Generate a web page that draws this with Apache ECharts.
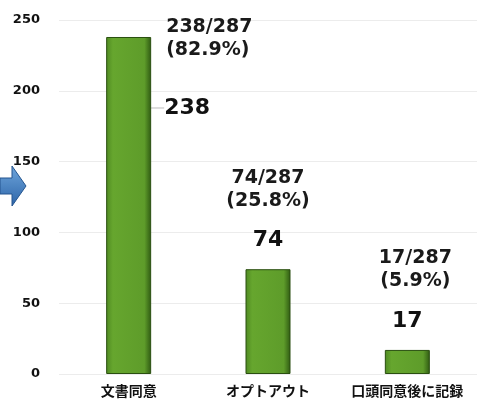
<!DOCTYPE html>
<html>
<head>
<meta charset="utf-8">
<script src="https://cdn.jsdelivr.net/npm/echarts@6/dist/echarts.min.js"></script>
<style>
  html, body { margin: 0; padding: 0; background: #fff; }
  #chart { width: 477px; height: 411px; }
</style>
</head>
<body>
<div id="chart"></div>
<script>
// データ
const categories = ["文書同意", "オプトアウト", "口頭同意後に記録"];
const counts = [238, 74, 17];
const total = 287;
const ratios = ["82.9%", "25.8%", "5.9%"];
const yTicks = [0, 50, 100, 150, 200, 250];

const chart = echarts.init(document.getElementById("chart"));

const barStyle = {
  color: new echarts.graphic.LinearGradient(0, 0, 1, 0, [
    { offset: 0, color: "#4f8a22" },
    { offset: 0.15, color: "#66a62e" },
    { offset: 0.85, color: "#5e9c2a" },
    { offset: 1, color: "#2f5a12" }
  ]),
  borderColor: "#2a4f10",
  borderWidth: 1
};

chart.setOption({
  animation: false,
  grid: { left: 59, width: 424, top: 20, bottom: 37 },
  xAxis: {
    type: "category",
    data: categories,
    axisLine: { show: false },
    axisTick: { show: false },
    axisLabel: {
      interval: 0,
      margin: 10,
      fontFamily: "Noto Sans CJK JP",
      fontWeight: "bold",
      fontSize: 14,
      color: "#111"
    }
  },
  yAxis: {
    type: "value",
    min: 0,
    max: yTicks[yTicks.length - 1],
    interval: 50,
    axisLine: { show: false },
    axisTick: { show: false },
    splitLine: { lineStyle: { color: "#ececec", width: 1 } },
    axisLabel: {
      margin: 19,
      fontFamily: "DejaVu Sans",
      fontWeight: "bold",
      fontSize: 13,
      color: "#111"
    }
  },
  series: [
    {
      type: "bar",
      barWidth: 45,
      data: counts.map((v, i) => i === 0 ? {
        value: v,
        label: { position: [58, 60] },
        labelLine: { show: true }
      } : v),
      itemStyle: barStyle,
      label: {
        show: true,
        position: "top",
        distance: 18,
        fontFamily: "DejaVu Sans",
        fontWeight: "bold",
        fontSize: 22,
        color: "#111"
      },
      labelLine: { show: false, lineStyle: { color: "#bbb", width: 1 } },
      z: 2
    },
    {
      type: "bar",
      barWidth: 45,
      barGap: "-100%",
      silent: true,
      itemStyle: { color: "transparent" },
      data: counts.map((v, i) => {
        if (i === 0) return { value: v, label: { position: [60, -21], align: "left" } };
        if (i === 2) return { value: v, label: { offset: [8, 0] } };
        return v;
      }),
      label: {
        show: true,
        position: "top",
        distance: 57,
        fontFamily: "DejaVu Sans",
        fontWeight: "bold",
        fontSize: 19,
        lineHeight: 23,
        color: "#1a1a1a",
        formatter: p => counts[p.dataIndex] + "/" + total + "\n(" + ratios[p.dataIndex] + ")"
      },
      z: 3
    }
  ],
  graphic: [
    {
      type: "polygon",
      shape: { points: [[0, 178], [12, 178], [12, 166], [26, 186], [12, 206], [12, 194], [0, 194]] },
      style: {
        fill: new echarts.graphic.LinearGradient(0, 0, 0, 1, [
          { offset: 0, color: "#6fa6dc" },
          { offset: 1, color: "#2c64a8" }
        ]),
        stroke: "#24558f",
        lineWidth: 1
      }
    }
  ]
});
</script>
</body>
</html>
